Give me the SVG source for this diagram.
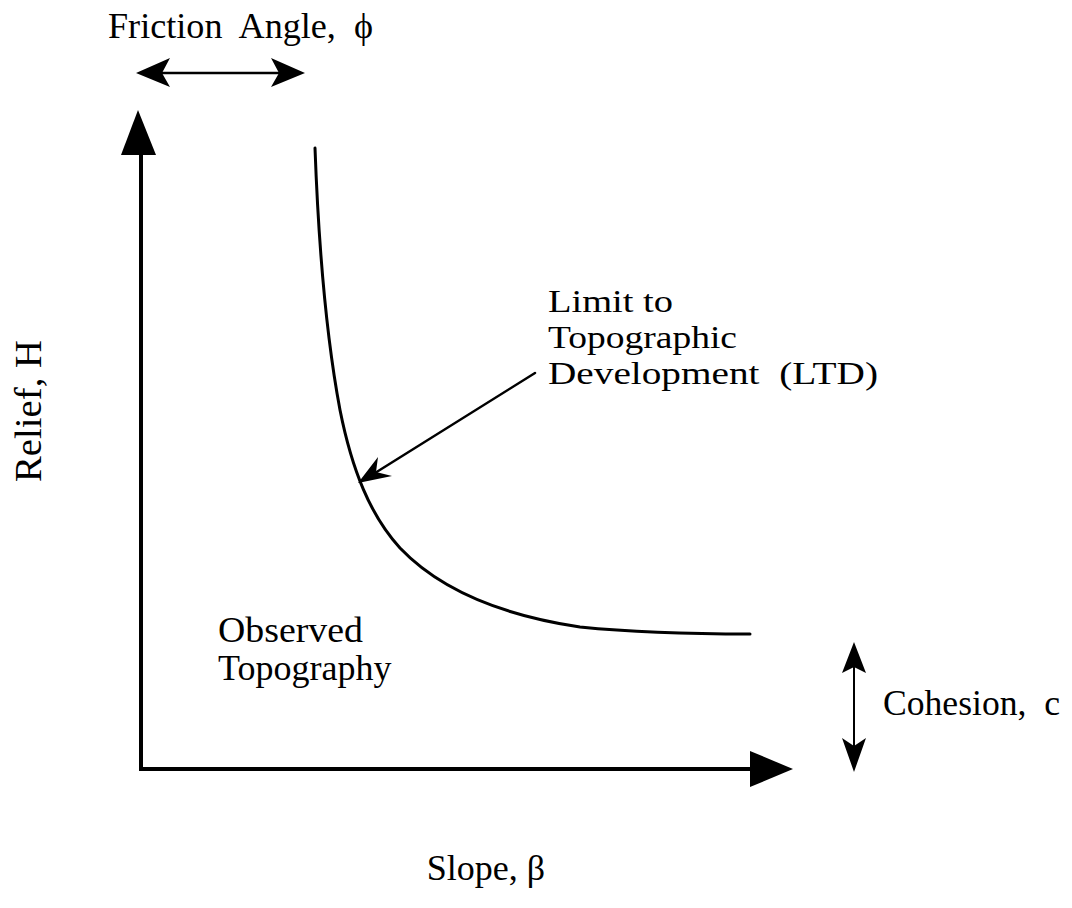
<svg xmlns="http://www.w3.org/2000/svg" width="1072" height="908" viewBox="0 0 1072 908">
<style>
.t{font-family:"Liberation Serif","Times New Roman",serif;font-size:36px;fill:#000}
.s{font-size:32px}
.ln{stroke:#000;fill:none;stroke-linecap:round}
.ah{fill:#000;stroke:none}
</style>
<rect width="1072" height="908" fill="#fff"/>
<g id="connectors">
<path class="ln" d="M141,150 L141,769 L755,769" stroke-width="4"/>
<path class="ah" d="M138,110 L121,155 L156,155 Z"/>
<path class="ah" d="M793,769 L750,751 L750,787 Z"/>
<path class="ln" d="M160,73 L282,73" stroke-width="2.5"/>
<path class="ah" d="M136,73 L170,58 L162,73 L170,87 Z"/>
<path class="ah" d="M305,73 L271,58 L279,73 L271,87 Z"/>
<path class="ln" d="M854,665 L854,750" stroke-width="2"/>
<path class="ah" d="M854,642 L842,673 L854,667 L866,673 Z"/>
<path class="ah" d="M854,772 L842,738 L854,746 L866,738 Z"/>
<path class="ln" d="M535,373 L375,473" stroke-width="2.5"/>
<path class="ah" d="M358,483 L378,457 L376,472 L392,476 Z"/>
</g>
<g id="curve">
<path class="ln" stroke-width="3" d="M315,148 C318,230 325,330 340,410 C352,470 370,515 400,548 C440,590 500,615 580,627 C640,633 700,634 750,634"/>
</g>
<g id="labels">
<text class="t" x="108" y="38" textLength="265" lengthAdjust="spacingAndGlyphs" xml:space="preserve">Friction  Angle,  ϕ</text>
<text class="t s" x="548" y="312" textLength="125" lengthAdjust="spacingAndGlyphs">Limit to</text>
<text class="t s" x="548" y="348" textLength="189" lengthAdjust="spacingAndGlyphs">Topographic</text>
<text class="t s" x="548" y="384" textLength="330" lengthAdjust="spacingAndGlyphs" xml:space="preserve">Development  (LTD)</text>
<text class="t" x="218" y="642" textLength="145" lengthAdjust="spacingAndGlyphs">Observed</text>
<text class="t" x="218" y="680">Topography</text>
<text class="t" x="883" y="715" textLength="177" lengthAdjust="spacingAndGlyphs" xml:space="preserve">Cohesion,  c</text>
<text class="t" x="545" y="880" text-anchor="end">Slope, β</text>
<text class="t" style="font-size:38px" transform="translate(41,482) rotate(-90)" textLength="142" lengthAdjust="spacingAndGlyphs">Relief, H</text>
</g>
</svg>
